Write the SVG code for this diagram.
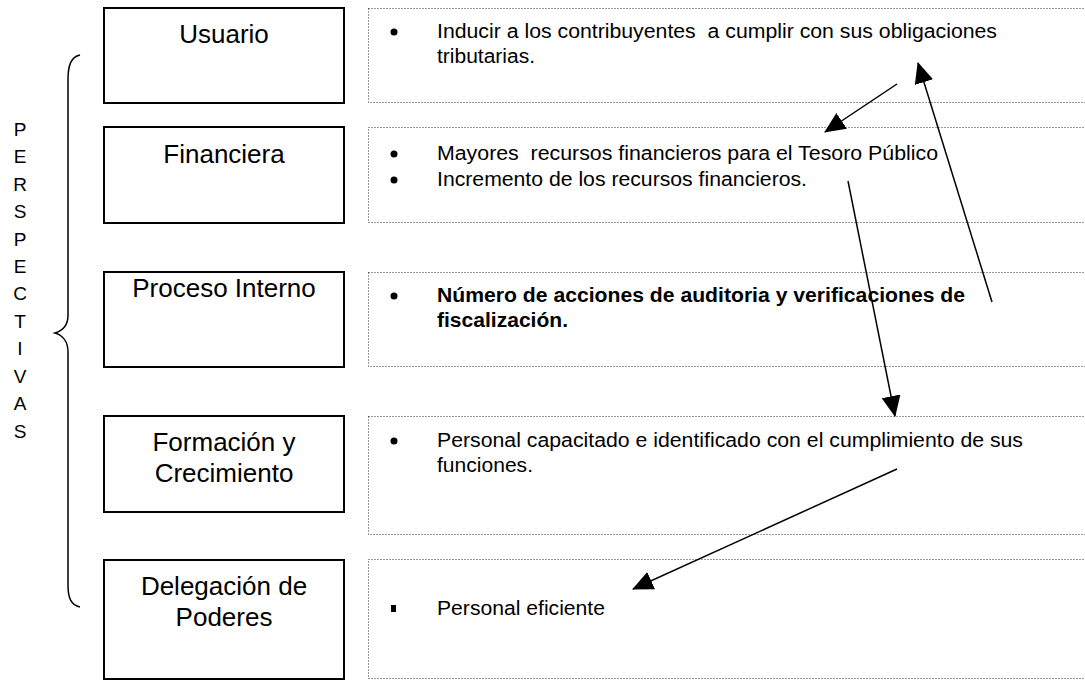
<svg xmlns="http://www.w3.org/2000/svg" width="1085" height="680" viewBox="0 0 1085 680">
<style>
.box{fill:#fff;stroke:#000;stroke-width:2}
.dbox{fill:none;stroke:#333;stroke-width:1;stroke-dasharray:1 2}
.lbl{font-family:"Liberation Sans",Arial,sans-serif;font-size:26px;fill:#000;text-anchor:middle}
.txt{font-family:"Liberation Sans",Arial,sans-serif;font-size:20px;fill:#000;white-space:pre}
.b{font-weight:bold}
.side{font-family:"Liberation Sans",Arial,sans-serif;font-size:19px;fill:#000;text-anchor:middle}
.conn{stroke:#000;stroke-width:1.5;fill:none;marker-end:url(#ah)}
</style>
<defs>
<marker id="ah" markerUnits="userSpaceOnUse" markerWidth="22" markerHeight="20" refX="20" refY="9.5" orient="auto">
<path d="M0,0 L21,9.5 L0,19 z" fill="#000"/>
</marker>
</defs>
<rect width="1085" height="680" fill="#fff"/>
<g id="perspectivas">
<path d="M80,55 C71,57 68,65 68,80 L68,315 C68,326 62,331 55,333 C62,335 68,341 68,352 L68,585 C68,598 71,605 80,607" fill="none" stroke="#000" stroke-width="1.5"/>
<text class="side" x="20" y="136">P</text>
<text class="side" x="20" y="163">E</text>
<text class="side" x="20" y="191">R</text>
<text class="side" x="20" y="218">S</text>
<text class="side" x="20" y="246">P</text>
<text class="side" x="20" y="273">E</text>
<text class="side" x="20" y="300">C</text>
<text class="side" x="20" y="328">T</text>
<text class="side" x="20" y="355">I</text>
<text class="side" x="20" y="383">V</text>
<text class="side" x="20" y="410">A</text>
<text class="side" x="20" y="438">S</text>
</g>
<g id="usuario">
<rect class="box" x="104" y="8" width="240" height="95"/>
<text class="lbl" x="224" y="43">Usuario</text>
<rect class="dbox" x="368.5" y="8.5" width="730" height="94"/>
<circle cx="394" cy="32" r="3.5"/>
<text class="txt" x="437" y="38" textLength="560" lengthAdjust="spacingAndGlyphs">Inducir a los contribuyentes  a cumplir con sus obligaciones</text>
<text class="txt" x="437" y="63" textLength="98" lengthAdjust="spacingAndGlyphs">tributarias.</text>
</g>
<g id="financiera">
<rect class="box" x="104" y="127" width="240" height="96"/>
<text class="lbl" x="224" y="163">Financiera</text>
<rect class="dbox" x="368.5" y="127.5" width="730" height="95"/>
<circle cx="394" cy="154" r="3.5"/>
<text class="txt" x="437" y="160" textLength="501" lengthAdjust="spacingAndGlyphs">Mayores  recursos financieros para el Tesoro Público</text>
<circle cx="394" cy="180" r="3.5"/>
<text class="txt" x="437" y="186" textLength="370" lengthAdjust="spacingAndGlyphs">Incremento de los recursos financieros.</text>
</g>
<g id="proceso">
<rect class="box" x="104" y="272" width="240" height="95"/>
<text class="lbl" x="224" y="297">Proceso Interno</text>
<rect class="dbox" x="368.5" y="272.5" width="730" height="94"/>
<circle cx="394" cy="296" r="3.5"/>
<text class="txt b" x="437" y="302" textLength="528" lengthAdjust="spacingAndGlyphs">Número de acciones de auditoria y verificaciones de</text>
<text class="txt b" x="437" y="327" textLength="131" lengthAdjust="spacingAndGlyphs">fiscalización.</text>
</g>
<g id="formacion">
<rect class="box" x="104" y="416" width="240" height="96"/>
<text class="lbl" x="224" y="451">Formación y</text>
<text class="lbl" x="224" y="482">Crecimiento</text>
<rect class="dbox" x="368.5" y="416.5" width="730" height="118"/>
<circle cx="394" cy="441" r="3.5"/>
<text class="txt" x="437" y="447" textLength="586" lengthAdjust="spacingAndGlyphs">Personal capacitado e identificado con el cumplimiento de sus</text>
<text class="txt" x="437" y="472" textLength="96" lengthAdjust="spacingAndGlyphs">funciones.</text>
</g>
<g id="delegacion">
<rect class="box" x="104" y="560" width="240" height="119"/>
<text class="lbl" x="224" y="595">Delegación de</text>
<text class="lbl" x="224" y="626">Poderes</text>
<rect class="dbox" x="368.5" y="559.5" width="730" height="119"/>
<rect x="391" y="605" width="5" height="7" fill="#000"/>
<text class="txt" x="437" y="615" textLength="168" lengthAdjust="spacingAndGlyphs">Personal eficiente</text>
</g>
<g id="connectors">
<line class="conn" x1="897" y1="84" x2="825" y2="132"/>
<line class="conn" x1="992" y1="302" x2="918" y2="63"/>
<line class="conn" x1="848" y1="181" x2="895" y2="416"/>
<line class="conn" x1="897" y1="469" x2="633" y2="589"/>
</g>
</svg>
